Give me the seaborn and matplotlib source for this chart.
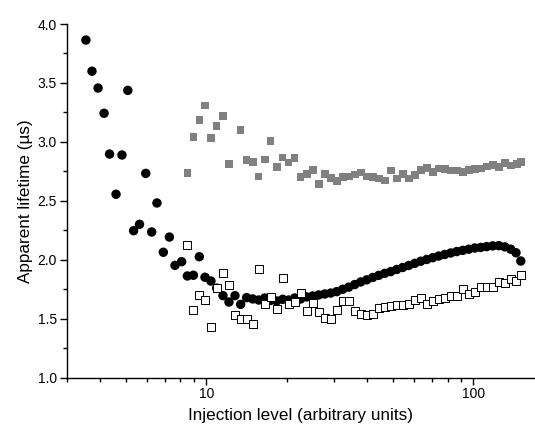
import numpy as np
import pandas as pd
import seaborn as sns
import matplotlib
matplotlib.use("Agg")
import matplotlib.pyplot as plt
from matplotlib.ticker import LogLocator, MultipleLocator, FixedLocator, NullFormatter, FixedFormatter

# ---- data ----
black_x = [3.54, 3.73, 3.93, 4.14, 4.34, 4.59, 4.83, 5.08, 5.34, 5.62, 5.93, 6.24, 6.53, 6.90,
           7.27, 7.63, 8.08, 8.49, 8.94, 9.41, 9.88, 10.40, 10.93, 11.54, 12.15, 12.80, 13.44,
           14.15, 14.91, 15.70, 16.54, 17.41, 18.34, 19.31, 20.33, 21.41, 22.55, 23.75, 25.01,
           26.34, 27.74, 29.21, 30.76, 32.40, 34.12, 35.93, 37.84, 39.85, 41.96, 44.19, 46.54,
           49.01, 51.61, 54.35, 57.24, 60.28, 63.48, 66.86, 70.41, 74.13, 78.07, 82.22, 86.59,
           91.18, 96.03, 101.1, 106.5, 112.1, 118.1, 124.4, 131.0, 137.9, 144.3, 150.4]
black_y = [3.864, 3.60, 3.457, 3.243, 2.897, 2.556, 2.889, 3.437, 2.247, 2.301, 2.733, 2.236,
           2.482, 2.064, 2.193, 1.953, 1.984, 1.863, 1.869, 2.026, 1.852, 1.820, 1.76, 1.696,
           1.642, 1.696, 1.622, 1.679, 1.668, 1.659, 1.676, 1.656, 1.651, 1.665, 1.659, 1.676,
           1.668, 1.685, 1.693, 1.702, 1.710, 1.718, 1.730, 1.750, 1.768, 1.790, 1.812, 1.830,
           1.850, 1.868, 1.885, 1.900, 1.918, 1.935, 1.952, 1.970, 1.988, 2.003, 2.018, 2.032,
           2.045, 2.058, 2.070, 2.080, 2.090, 2.100, 2.105, 2.112, 2.118, 2.120, 2.110, 2.090,
           2.060, 1.990]

gray_x = [8.49, 8.94, 9.41, 9.88, 10.40, 10.93, 11.54, 12.15, 13.44, 14.15, 14.91, 15.70,
          16.54, 17.41, 18.34, 19.31, 20.33, 21.41, 22.55, 23.75, 25.01, 26.34, 27.74, 29.21,
          30.76, 32.40, 34.12, 35.93, 37.84, 39.85, 41.96, 44.19, 46.54, 49.01, 51.61, 54.35,
          57.24, 60.28, 63.48, 66.86, 70.41, 74.13, 78.07, 82.22, 86.59, 91.18, 96.03, 101.1,
          106.5, 112.1, 118.1, 124.4, 131.0, 137.9, 145.3, 150.4]
gray_y = [2.736, 3.044, 3.186, 3.310, 3.033, 3.135, 3.220, 2.813, 3.101, 2.844, 2.830, 2.705,
          2.850, 3.008, 2.787, 2.869, 2.824, 2.866, 2.702, 2.730, 2.764, 2.643, 2.730, 2.694,
          2.666, 2.700, 2.708, 2.725, 2.742, 2.708, 2.700, 2.691, 2.674, 2.756, 2.691, 2.728,
          2.691, 2.717, 2.762, 2.779, 2.745, 2.776, 2.768, 2.756, 2.759, 2.747, 2.762, 2.768,
          2.776, 2.793, 2.804, 2.787, 2.821, 2.801, 2.813, 2.832]

open_x = [8.49, 8.94, 9.41, 9.88, 10.40, 10.93, 11.54, 12.15, 12.80, 13.44, 14.15, 14.91,
          15.70, 16.54, 17.41, 18.34, 19.31, 20.33, 21.41, 22.55, 23.75, 25.01, 26.34, 27.74,
          29.21, 30.76, 32.40, 34.12, 35.93, 37.84, 39.85, 41.96, 44.19, 46.54, 49.01, 51.61,
          54.35, 57.24, 60.28, 63.48, 66.86, 70.41, 74.13, 78.07, 82.22, 86.59, 91.18, 96.03,
          101.1, 106.5, 112.1, 118.1, 124.4, 131.0, 137.9, 144.3, 150.4]
open_y = [2.128, 1.577, 1.699, 1.657, 1.428, 1.757, 1.891, 1.784, 1.532, 1.498, 1.495, 1.458,
          1.919, 1.625, 1.687, 1.580, 1.843, 1.625, 1.645, 1.721, 1.563, 1.637, 1.560, 1.509,
          1.498, 1.572, 1.650, 1.650, 1.563, 1.543, 1.532, 1.540, 1.594, 1.602, 1.608, 1.614,
          1.614, 1.623, 1.659, 1.679, 1.628, 1.653, 1.668, 1.679, 1.690, 1.690, 1.750, 1.713,
          1.727, 1.767, 1.767, 1.767, 1.809, 1.803, 1.835, 1.820, 1.871]

x_major = [10, 100]
x_major_labels = ["10", "100"]

# ---- style ----
sns.set_theme(style="ticks")
plt.rcParams["font.family"] = ["Liberation Sans", "DejaVu Sans"]

fig = plt.figure(figsize=(5.35, 4.32), dpi=100)
ax = fig.add_axes([0.1247, 0.1257, 0.8753, 0.8187])

df_gray = pd.DataFrame({"x": gray_x, "y": gray_y})
df_open = pd.DataFrame({"x": open_x, "y": open_y})
df_black = pd.DataFrame({"x": black_x, "y": black_y})

sns.scatterplot(data=df_gray, x="x", y="y", ax=ax, marker="s", s=30,
                color="#808080", edgecolor="none", linewidth=0, zorder=2)
sns.scatterplot(data=df_black, x="x", y="y", ax=ax, marker="o", s=46,
                color="black", edgecolor="none", linewidth=0, zorder=3)
sns.scatterplot(data=df_open, x="x", y="y", ax=ax, marker="s", s=28,
                facecolor="white", edgecolor="black", linewidth=0.7, zorder=4)

ax.set_xscale("log")
ax.set_xlim(3, 170)
ax.set_ylim(1.0, 4.0)

ax.xaxis.set_major_locator(FixedLocator(x_major))
ax.xaxis.set_major_formatter(FixedFormatter(x_major_labels))
ax.xaxis.set_minor_locator(LogLocator(base=10, subs=np.arange(2, 10), numticks=20))
ax.xaxis.set_minor_formatter(NullFormatter())
ax.yaxis.set_major_locator(MultipleLocator(0.5))
ax.yaxis.set_minor_locator(MultipleLocator(0.25))
ax.yaxis.set_major_formatter(plt.FuncFormatter(lambda v, p: f"{v:.1f}"))

ax.tick_params(axis="both", which="major", direction="out", length=5, width=1,
               labelsize=10, colors="black", pad=2)
ax.tick_params(axis="both", which="minor", direction="out", length=3, width=1, colors="black")

for side in ["top", "right"]:
    ax.spines[side].set_visible(False)
for side in ["left", "bottom"]:
    ax.spines[side].set_color("black")
    ax.spines[side].set_linewidth(1.0)

ax.set_xlabel("Injection level (arbitrary units)", fontsize=12.3, color="black", labelpad=5)
ax.set_ylabel("Apparent lifetime (\u00b5s)", fontsize=12.3, color="black", labelpad=3)
ax.grid(False)
ax.set_facecolor("white")

fig.savefig("out.png", dpi=100, facecolor="white")
